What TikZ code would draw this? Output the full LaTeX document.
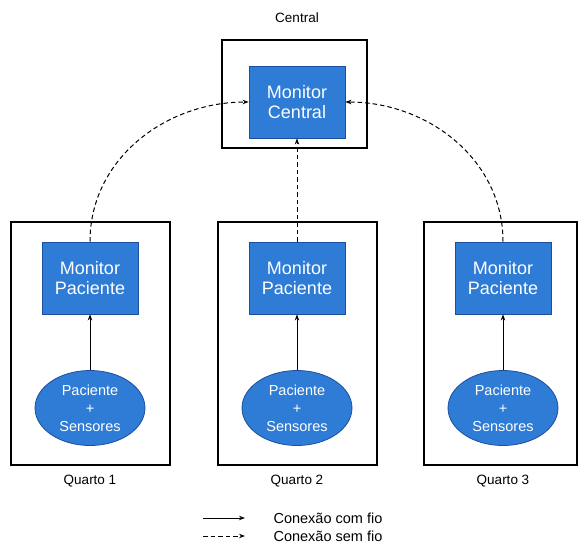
\documentclass[tikz,border=0pt]{standalone}
\usepackage{fontspec}
\setmainfont{Liberation Sans}
\usetikzlibrary{arrows.meta,shapes.geometric}
\definecolor{monblue}{RGB}{46,124,214}
\definecolor{monedge}{RGB}{28,78,158}
\begin{document}
\begin{tikzpicture}[x=1pt,y=-1pt,
    every node/.style={font=\fontsize{13.5}{16}\selectfont},
    room/.style={draw=black,line width=1.4pt},
    monitor/.style={rectangle,fill=monblue,draw=monedge,line width=0.8pt,text=white,
        align=center,minimum width=96pt,minimum height=72pt,font=\fontsize{18}{20.5}\selectfont},
    patient/.style={ellipse,fill=monblue,draw=monedge,line width=0.8pt,text=white,
        align=center,minimum width=110pt,minimum height=75pt,inner sep=0pt,
        font=\fontsize{14.5}{18}\selectfont},
    wired/.style={-{Stealth[length=6pt,width=4.5pt]},line width=1pt},
    wireless/.style={-{Stealth[length=6pt,width=4.5pt]},line width=1pt,dash pattern=on 4.5pt off 3pt}]
    \useasboundingbox (0,0) rectangle (579,544);

    % central room
    \draw[room] (222,40) rectangle (367,148);
    \node (lblc) at (297,18) {Central};
    \node[monitor] (mc) at (297,102) {Monitor\\Central};

    % patient rooms
    \draw[room] (11,222) rectangle (170,465);
    \draw[room] (218,222) rectangle (377,465);
    \draw[room] (424,222) rectangle (577,465);
    \foreach \i/\x in {1/90,2/297,3/503}{
        \node[monitor] (m\i) at (\x,278) {Monitor\\Paciente};
        \node[patient] (p\i) at (\x,408) {Paciente\\+\\Sensores};
        \node (q\i) at (\x,481) {Quarto \i};
        \draw[wired] (p\i) -- (m\i);
    }

    % wireless links to the central monitor
    \draw[wireless] (m1.north) to[out=90,in=180] (mc.west);
    \draw[wireless] (m2.north) -- (mc.south);
    \draw[wireless] (m3.north) to[out=90,in=0] (mc.east);

    % legend
    \coordinate (la1) at (203,518);
    \coordinate (la2) at (245,518);
    \coordinate (lb1) at (203,536);
    \coordinate (lb2) at (245,536);
    \draw[wired] (la1) -- (la2);
    \draw[wireless] (lb1) -- (lb2);
    \node[anchor=west] (lta) at (270,518) {\fontsize{14.5}{17}\selectfont Conexão com fio};
    \node[anchor=west] (ltb) at (270,536) {\fontsize{14.5}{17}\selectfont Conexão sem fio};
\end{tikzpicture}
\end{document}
